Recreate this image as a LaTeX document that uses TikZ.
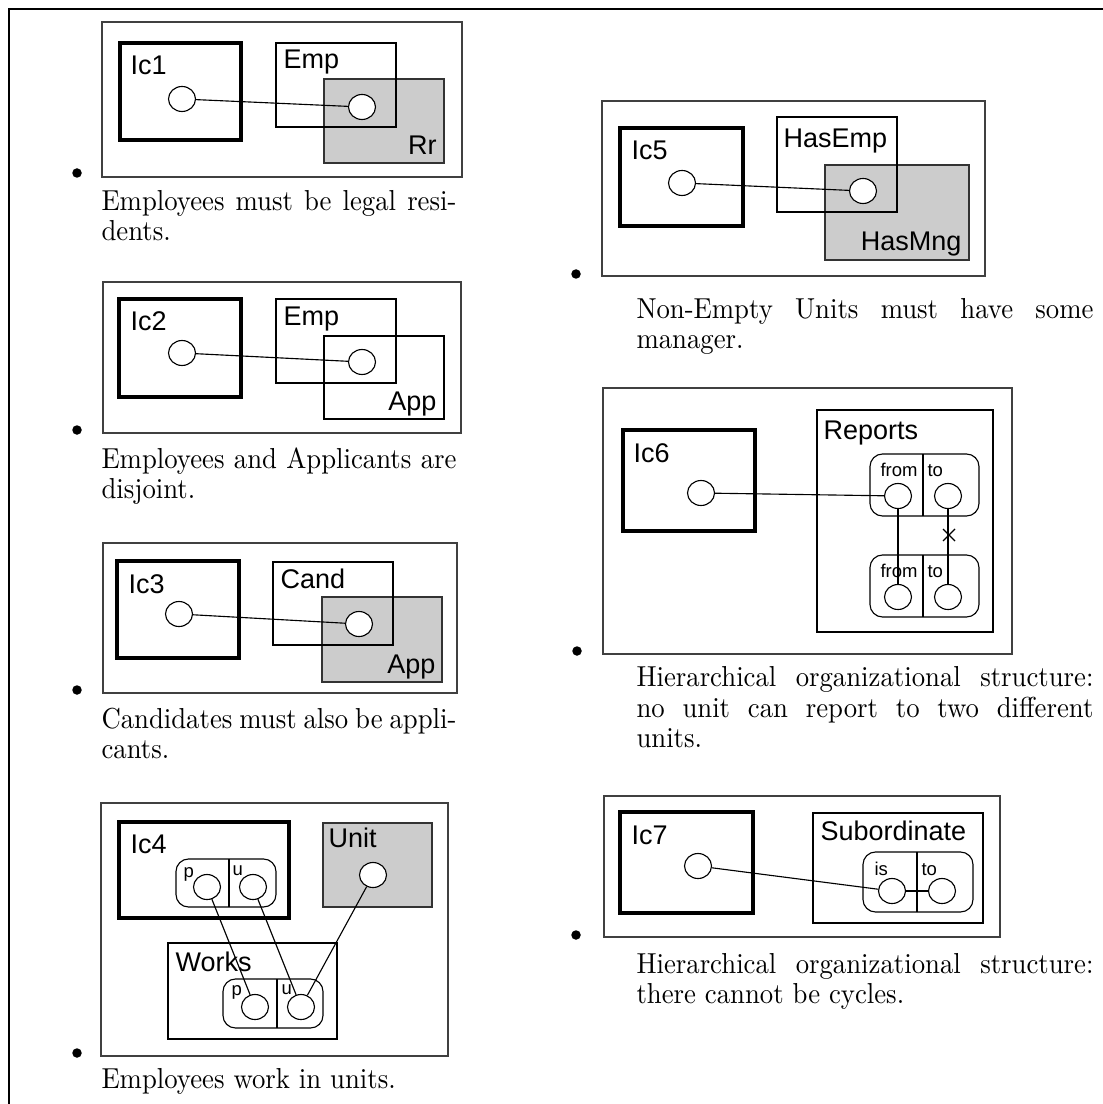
\documentclass[tikz,border=0pt]{standalone}
\usepackage{fontspec}
\usepackage{graphicx}
\newfontfamily\hv{Liberation Sans}
\usetikzlibrary{shapes.geometric}
\tikzset{
  frameline/.style={line width=1.1pt, line join=miter},
  panel/.style={draw=black!75, line width=0.5pt},
  icbox/.style={draw=black, line width=1.8pt},
  setbox/.style={draw=black, line width=0.45pt},
  grayset/.style={draw=black!80, fill=black!20, line width=0.45pt},
  relbox/.style={draw=black, line width=0.45pt, rounded corners=5pt},
  dot/.style={ellipse, draw=black, fill=white, line width=0.45pt,
    minimum width=10.8pt, minimum height=10pt, inner sep=0pt},
  link/.style={draw=black, line width=0.45pt},
  lbl/.style={font=\hv\fontsize{10.8}{12}\selectfont, inner sep=0pt, anchor=base west},
  lblr/.style={lbl, anchor=base east},
  small/.style={font=\hv\fontsize{7.4}{8}\selectfont, inner sep=0pt, anchor=base west},
  itembullet/.style={circle, fill=black, inner sep=0pt, minimum size=3.8pt},
  captext/.style={font=\fontsize{10.7}{12}\selectfont, inner sep=0pt, anchor=base west},
}
% caption lines: slightly tall glyphs, full-width lines justified
\newcommand{\tall}[1]{\scalebox{1}[1.08]{#1}}
\newcommand{\jleft}[1]{\tall{\makebox[142pt][s]{#1}}}
\newcommand{\jright}[1]{\tall{\makebox[182.8pt][s]{#1}}}
\begin{document}
\begin{tikzpicture}[x=0.4pt, y=-0.4pt]
\useasboundingbox (0,0) rectangle (1103,1104);
% page frame
\draw[frameline] (9,1104) -- (9,9) -- (1103,9);

% ---------------- Ic1: employees are residents ----------------
\draw[panel] (102,22) rectangle (462,177);
\draw[icbox] (120,43) rectangle (241,140);
\node[lbl] (l-ic1) at (130,75) {Ic1};
\draw[setbox, fill=white] (276,43) rectangle (396,127);
\draw[grayset] (324,79) rectangle (444,163);
\draw[setbox] (276,43) rectangle (396,127);
\node[lbl] (l-emp1) at (283,69) {Emp};
\node[lblr] (l-rr) at (437,155) {Rr};
\node[dot] (a1) at (182,99) {};
\node[dot] (b1) at (362,107) {};
\draw[link] (a1) -- (b1);
\node[itembullet] (bu1) at (77,173) {};
\node[captext] (c1a) at (101,211) {\jleft{Employees must be legal resi-}};
\node[captext] (c1b) at (101,241) {\tall{dents.}};

% ---------------- Ic2: employees and applicants disjoint ----------------
\draw[panel] (103,282) rectangle (461,433);
\draw[icbox] (119,299) rectangle (241,397);
\node[lbl] (l-ic2) at (130,331) {Ic2};
\draw[setbox] (276,299) rectangle (396,383);
\draw[setbox] (324,336) rectangle (444,419);
\node[lbl] (l-emp2) at (283,326) {Emp};
\node[lblr] (l-app2) at (437,410) {App};
\node[dot] (a2) at (182,353) {};
\node[dot] (b2) at (362,362) {};
\draw[link] (a2) -- (b2);
\node[itembullet] (bu2) at (77,430) {};
\node[captext] (c2a) at (101,468) {\jleft{Employees and Applicants are}};
\node[captext] (c2b) at (101,498) {\tall{disjoint.}};

% ---------------- Ic3: candidates are applicants ----------------
\draw[panel] (103,543) rectangle (457,693);
\draw[icbox] (117,561) rectangle (239,658);
\node[lbl] (l-ic3) at (128,593) {Ic3};
\draw[setbox, fill=white] (273,562) rectangle (393,645);
\draw[grayset] (322,597) rectangle (442,682);
\draw[setbox] (273,562) rectangle (393,645);
\node[lbl] (l-cand) at (280,588) {Cand};
\node[lblr] (l-app3) at (436,673) {App};
\node[dot] (a3) at (179,614) {};
\node[dot] (b3) at (359,624) {};
\draw[link] (a3) -- (b3);
\node[itembullet] (bu3) at (77,690) {};
\node[captext] (c3a) at (101,728) {\jleft{Candidates must also be appli-}};
\node[captext] (c3b) at (101,758) {\tall{cants.}};

% ---------------- Ic4: employees work in units ----------------
\draw[panel] (101,803) rectangle (448,1056);
\draw[icbox] (119,822) rectangle (289,918);
\node[lbl] (l-ic4) at (130,853) {Ic4};
\draw[relbox] (176,859) rectangle (276,907);
\draw[setbox] (229,859) -- (229,907);
\node[small] (l-p1) at (183,877) {p};
\node[small] (l-u1) at (232,875) {u};
\node[dot] (ip) at (207,887) {};
\node[dot] (iu) at (253,887) {};
\draw[grayset] (323,823) rectangle (432,907);
\node[lbl] (l-unit) at (328,847) {Unit};
\node[dot] (uc) at (373,875) {};
\draw[setbox] (168,943) rectangle (337,1039);
\node[lbl] (l-works) at (175,971) {Works};
\draw[relbox] (223,979) rectangle (323,1028);
\draw[setbox] (277,979) -- (277,1028);
\node[small] (l-p2) at (231,995) {p};
\node[small] (l-u2) at (281,994) {u};
\node[dot] (wp) at (255,1007) {};
\node[dot] (wu) at (301,1007) {};
\draw[link] (ip) -- (wp);
\draw[link] (iu) -- (wu);
\draw[link] (uc) -- (wu);
\node[itembullet] (bu4) at (77,1053) {};
\node[captext] (c4a) at (101,1088) {\tall{Employees work in units.}};

% ---------------- Ic5: non-empty units have a manager ----------------
\draw[panel] (602,101) rectangle (985,276);
\draw[icbox] (620,128) rectangle (743,226);
\node[lbl] (l-ic5) at (631,160) {Ic5};
\draw[setbox, fill=white] (777,117) rectangle (897,212);
\draw[grayset] (825,165) rectangle (969,260);
\draw[setbox] (777,117) rectangle (897,212);
\node[lbl] (l-hasemp) at (783,148) {HasEmp};
\node[lblr] (l-hasmng) at (962,251) {HasMng};
\node[dot] (a5) at (682,183) {};
\node[dot] (b5) at (863,191) {};
\draw[link] (a5) -- (b5);
\node[itembullet] (bu5) at (576,274) {};
\node[captext] (c5a) at (636,319) {\jright{Non-Empty Units must have some}};
\node[captext] (c5b) at (636,349) {\tall{manager.}};

% ---------------- Ic6: a unit reports to one unit only ----------------
\draw[panel] (603,388) rectangle (1012,654);
\draw[icbox] (623,430) rectangle (755,531);
\node[lbl] (l-ic6) at (633,462) {Ic6};
\node[dot] (a6) at (701,493) {};
\draw[setbox] (817,410) rectangle (993,632);
\node[lbl] (l-reports) at (823,439) {Reports};
\draw[relbox] (870,454) rectangle (979,516);
\draw[setbox] (923,454) -- (923,516);
\node[small] (l-from1) at (880,476) {from};
\node[small] (l-to1) at (927,476) {to};
\node[dot] (f1) at (898,496) {};
\node[dot] (t1) at (948,496) {};
\draw[relbox] (870,555) rectangle (979,617);
\draw[setbox] (923,555) -- (923,617);
\node[small] (l-from2) at (880,577) {from};
\node[small] (l-to2) at (927,577) {to};
\node[dot] (f2) at (898,597) {};
\node[dot] (t2) at (948,597) {};
\draw[link] (a6) -- (f1);
\draw[link] (f1) -- (f2);
\draw[link] (t1) -- (t2);
\coordinate (xmark) at (949,535);
\draw[link] ([shift={(-6,-6)}]xmark) -- ([shift={(6,6)}]xmark);
\draw[link] ([shift={(-6,6)}]xmark) -- ([shift={(6,-6)}]xmark);
\node[itembullet] (bu6) at (577,651) {};
\node[captext] (c6a) at (636,686) {\jright{Hierarchical organizational structure:}};
\node[captext] (c6b) at (636,717) {\jright{no unit can report to two different}};
\node[captext] (c6c) at (636,747) {\tall{units.}};

% ---------------- Ic7: no cycles ----------------
\draw[panel] (604,796) rectangle (1000,937);
\draw[icbox] (620,812) rectangle (753,913);
\node[lbl] (l-ic7) at (631,844) {Ic7};
\node[dot] (a7) at (698,866) {};
\draw[setbox] (813,813) rectangle (983,923);
\node[lbl] (l-sub) at (820,840) {Subordinate};
\draw[relbox] (863,852) rectangle (973,912);
\draw[setbox] (917,852) -- (917,912);
\node[small] (l-is) at (874,875) {is};
\node[small] (l-to3) at (921,875) {to};
\node[dot] (s1) at (892,891) {};
\node[dot] (s2) at (942,891) {};
\draw[link] (a7) -- (s1);
\draw[link] (s1) -- (s2);
\node[itembullet] (bu7) at (576,935) {};
\node[captext] (c7a) at (636,973) {\jright{Hierarchical organizational structure:}};
\node[captext] (c7b) at (636,1003) {\tall{there cannot be cycles.}};
\end{tikzpicture}
\end{document}
